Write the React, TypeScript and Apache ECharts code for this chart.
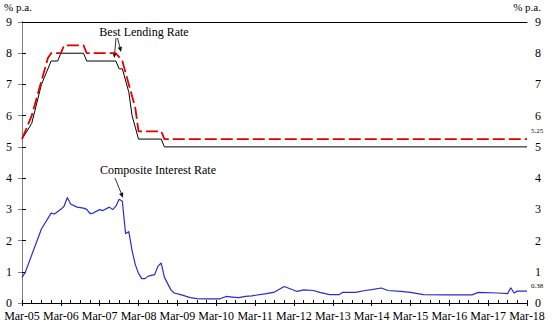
import React, { useEffect, useRef } from "react";
import * as echarts from "echarts";

// x values are months since Mar-05
const yearLabels = [
  "Mar-05", "Mar-06", "Mar-07", "Mar-08", "Mar-09", "Mar-10", "Mar-11",
  "Mar-12", "Mar-13", "Mar-14", "Mar-15", "Mar-16", "Mar-17", "Mar-18",
];

const blrLow: [number, number][] = [
  [0, 5.25], [3, 5.75], [6, 7.0], [9, 7.75], [11, 7.75], [12, 8.0], [19, 8.0],
  [20, 7.75], [29, 7.75], [30, 7.5], [31, 7.5], [33, 6.75], [34, 6.0], [36, 5.25],
  [43, 5.25], [44, 5.0], [156, 5.0],
];

const blrHigh: [number, number][] = [
  [0, 5.25], [3, 6.0], [8, 7.85], [9, 8.0], [12, 8.0], [13, 8.25], [19, 8.25],
  [20, 8.0], [29, 8.0], [31, 7.75], [33, 7.0], [35, 6.25], [36, 5.5], [43, 5.5],
  [44, 5.25], [156, 5.25],
];

const composite: [number, number][] = [
  [0, 0.82], [1, 0.98], [6, 2.37], [9, 2.88], [10, 2.85], [12, 3.0], [13, 3.1],
  [14, 3.38], [15, 3.17], [17, 3.07], [19, 3.04], [20, 3.0], [21, 2.86], [22, 2.88],
  [24, 2.99], [25, 2.96], [27, 3.07], [28, 2.99], [29, 3.1], [30, 3.32], [31, 3.26],
  [32, 2.22], [33, 2.29], [34, 1.68], [35, 1.23], [36, 0.95], [37, 0.78], [38, 0.78],
  [39, 0.86], [41, 0.91], [42, 1.18], [43, 1.28], [44, 0.82], [46, 0.42], [47, 0.32],
  [49, 0.27], [52, 0.17], [54, 0.14], [57, 0.13], [61, 0.13], [63, 0.21], [65, 0.19],
  [67, 0.17], [69, 0.21], [71, 0.23], [75, 0.29], [78, 0.35], [81, 0.53], [83, 0.45],
  [85, 0.37], [87, 0.42], [90, 0.4], [92, 0.34], [95, 0.27], [98, 0.27], [99, 0.34],
  [103, 0.34], [106, 0.4], [108, 0.43], [111, 0.48], [113, 0.4], [117, 0.37],
  [120, 0.34], [124, 0.27], [131, 0.26], [139, 0.26], [141, 0.34], [147, 0.32],
  [150, 0.3], [151, 0.49], [152, 0.32], [153, 0.38], [156, 0.38],
];

const FONT = "'Liberation Serif', 'Times New Roman', serif";

function arrow(from: number[], to: number[]) {
  const dx = to[0] - from[0];
  const dy = to[1] - from[1];
  const len = Math.sqrt(dx * dx + dy * dy) || 1;
  const ux = dx / len, uy = dy / len;
  const nx = -uy, ny = ux;
  const hl = 5, hw = 2.2;
  const bx = to[0] - ux * hl, by = to[1] - uy * hl;
  return [
    {
      type: "line",
      shape: { x1: from[0], y1: from[1], x2: bx, y2: by },
      style: { stroke: "#333", lineWidth: 1 },
      silent: true,
    },
    {
      type: "polygon",
      shape: {
        points: [
          [to[0], to[1]],
          [bx + nx * hw, by + ny * hw],
          [bx - nx * hw, by - ny * hw],
        ],
      },
      style: { fill: "#111" },
      silent: true,
    },
  ];
}

export default function App() {
  const ref = useRef<HTMLDivElement>(null);
  useEffect(() => {
    const chart = echarts.init(ref.current!, null, { renderer: "svg" });
    const baseX = {
      type: "value",
      min: 0,
      max: 156,
      interval: 12,
      gridIndex: 0,
      splitLine: { show: false },
    };
    chart.setOption({
      animation: false,
      backgroundColor: "#fff",
      textStyle: { fontFamily: FONT },
      grid: { left: 22, right: 26, top: 22, bottom: 24, show: false },
      xAxis: [
        {
          ...baseX,
          position: "bottom",
          axisLine: { show: true, lineStyle: { color: "#000", width: 1 } },
          axisTick: { show: true, inside: true, length: 3, lineStyle: { color: "#000" } },
          minorTick: { show: true, splitNumber: 4, length: 3, lineStyle: { color: "#000" } },
          axisLabel: {
            show: true,
            margin: 7,
            fontFamily: FONT,
            fontSize: 12,
            color: "#000",
            formatter: (v: number) => yearLabels[Math.round(v / 12)] ?? "",
          },
        },
        {
          ...baseX,
          position: "bottom",
          axisLine: { show: false },
          axisTick: { show: true, inside: false, length: 3, lineStyle: { color: "#000" } },
          axisLabel: { show: false },
        },
        {
          ...baseX,
          position: "top",
          axisLine: { show: true, lineStyle: { color: "#000", width: 1 } },
          axisTick: { show: false },
          axisLabel: { show: false },
        },
      ],
      yAxis: [
        {
          type: "value",
          min: 0,
          max: 9,
          interval: 1,
          position: "left",
          axisLine: { show: true, lineStyle: { color: "#000" } },
          axisTick: { show: true, inside: true, length: 4, lineStyle: { color: "#000" } },
          axisLabel: { margin: 10, fontFamily: FONT, fontSize: 12, color: "#000" },
          splitLine: { show: false },
        },
        {
          type: "value",
          min: 0,
          max: 9,
          interval: 1,
          position: "right",
          axisLine: { show: true, lineStyle: { color: "#7f7f7f" } },
          axisTick: { show: true, inside: true, length: 4, lineStyle: { color: "#7f7f7f" } },
          axisLabel: { margin: 8, fontFamily: FONT, fontSize: 12, color: "#000" },
          splitLine: { show: false },
        },
      ],
      series: [
        {
          type: "line",
          name: "Best Lending Rate (low)",
          data: blrLow,
          showSymbol: false,
          symbol: "none",
          lineStyle: { color: "#000", width: 1 },
          z: 2,
        },
        {
          type: "line",
          name: "Best Lending Rate (high)",
          data: blrHigh,
          showSymbol: false,
          symbol: "none",
          lineStyle: { color: "#e00000", width: 1.8, type: [12, 4] },
          z: 3,
          endLabel: {
            show: true,
            formatter: (p: any) => Number(p.value[1]).toFixed(2),
            fontSize: 7,
            fontFamily: FONT,
            color: "#000",
            distance: 4,
            offset: [0, -8],
          },
        },
        {
          type: "line",
          name: "Composite Interest Rate",
          data: composite,
          showSymbol: false,
          symbol: "none",
          lineStyle: { color: "#2b2bd0", width: 1.2 },
          z: 2,
          endLabel: {
            show: true,
            formatter: (p: any) => Number(p.value[1]).toFixed(2),
            fontSize: 7,
            fontFamily: FONT,
            color: "#000",
            distance: 4,
            offset: [0, -5],
          },
        },
      ],
    });

    const px = (pt: number[]) => chart.convertToPixel({ gridIndex: 0 }, pt) as number[];
    const tipLow = px([28.5, 7.85]);
    const tipHigh = px([30.6, 8.04]);
    const tipComp = px([31.2, 3.37]);

    chart.setOption({
      graphic: [
        {
          type: "text",
          left: 4,
          top: 1,
          style: { text: "% p.a.", font: `11px ${FONT}`, fill: "#000" },
        },
        {
          type: "text",
          right: 12,
          top: 1,
          style: { text: "% p.a.", font: `11px ${FONT}`, fill: "#000" },
        },
        {
          type: "text",
          x: 144,
          y: 32,
          style: {
            text: "Best Lending Rate",
            font: `12px ${FONT}`,
            fill: "#000",
            align: "center",
            verticalAlign: "middle",
          },
        },
        ...arrow([116, 38], tipLow),
        ...arrow([117.5, 38], tipHigh),
        {
          type: "text",
          x: 158,
          y: 170,
          style: {
            text: "Composite Interest Rate",
            font: `12px ${FONT}`,
            fill: "#000",
            align: "center",
            verticalAlign: "middle",
          },
        },
        ...arrow([115, 178], tipComp),
      ],
    });

    return () => chart.dispose();
  }, []);
  return (
    <div
      ref={ref}
      style={{ position: "absolute", left: 0, top: 0, width: 553, height: 327 }}
    />
  );
}
